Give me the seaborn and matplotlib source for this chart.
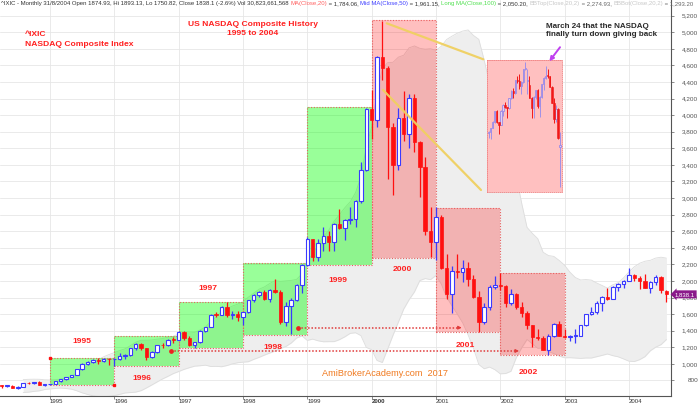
import numpy as np
import pandas as pd
import matplotlib
matplotlib.use("Agg")
import matplotlib.pyplot as plt
from matplotlib.patches import Rectangle, FancyArrowPatch
import seaborn as sns

# ---------------- data (monthly NASDAQ Composite, Apr 1994 - Aug 2004) ----------------
start_month = "1994-04"
opens = [743.5, 733.8, 735.2, 706.0, 722.2, 765.6, 764.3, 777.5, 750.3,
         752.0, 755.2, 793.7, 817.2, 844.0, 864.6, 933.5, 1001.2, 1020.1, 1043.5, 1036.1, 1059.2,
         1052.1, 1059.8, 1100.1, 1101.4, 1190.5, 1243.4, 1185.0, 1080.6, 1141.5, 1226.9, 1221.5, 1292.6,
         1291.0, 1379.9, 1309.0, 1221.7, 1260.8, 1400.3, 1442.1, 1593.8, 1587.3, 1685.7, 1593.6, 1600.6,
         1570.4, 1619.4, 1770.5, 1835.7, 1868.4, 1778.9, 1894.7, 1872.4, 1499.3, 1693.8, 1771.4, 1949.5,
         2192.7, 2505.9, 2288.0, 2461.4, 2542.9, 2470.5, 2686.1, 2638.5, 2739.4, 2746.2, 2966.4, 3336.2,
         4069.3, 3940.4, 4696.7, 4572.8, 3860.7, 3400.9, 3966.1, 3767.0, 4206.4, 3672.8, 3369.6, 2597.9,
         2470.5, 2772.7, 2151.8, 1840.3, 2116.2, 2110.5, 2160.5, 2027.1, 1805.4, 1498.8, 1690.2, 1930.6,
         1950.4, 1934.0, 1731.5, 1845.4, 1688.2, 1615.7, 1463.2, 1328.3, 1314.9, 1172.1, 1329.8, 1478.8,
         1335.5, 1320.9, 1337.5, 1341.2, 1464.3, 1595.9, 1622.8, 1735.0, 1810.5, 1786.9, 1932.2, 1960.3,
         2003.4, 2066.2, 2029.8, 1994.2, 1920.2, 1986.7, 2047.8, 1874.9]
highs = [746, 745, 748, 727, 767, 779, 785, 790, 760,
         762, 795, 819, 845, 868, 935, 1009, 1029, 1060, 1067, 1071, 1070,
         1065, 1125, 1117, 1193, 1250, 1249, 1190, 1155, 1230, 1250, 1295, 1328,
         1390, 1390, 1340, 1265, 1410, 1450, 1595, 1620, 1700, 1746, 1640, 1640,
         1630, 1775, 1840, 1880, 1890, 1900, 2028, 1890, 1750, 1790, 1960, 2200,
         2533, 2510, 2500, 2653, 2600, 2700, 2865, 2750, 2890, 2975, 3430, 4090,
         4303, 4711, 5132, 4595, 3910, 4083, 4290, 4260, 4260, 3690, 3500, 2890,
         2892, 2790, 2330, 2185, 2330, 2250, 2230, 2075, 1880, 1730, 1950, 2060,
         2098, 1945, 1900, 1860, 1740, 1640, 1470, 1425, 1330, 1365, 1495, 1520,
         1425, 1350, 1425, 1470, 1600, 1680, 1760, 1815, 1910, 1940, 1975, 2010,
         2155, 2080, 2065, 2080, 2000, 2070, 2055, 1893.1]
lows = [705, 717, 703, 700, 720, 760, 755, 740, 735,
        743, 754, 783, 808, 836, 862, 925, 990, 1015, 995, 1020, 990,
        978, 1050, 1060, 1090, 1170, 1165, 1042, 1075, 1130, 1195, 1210, 1250,
        1285, 1290, 1215, 1195, 1255, 1380, 1440, 1560, 1585, 1560, 1545, 1520,
        1465, 1610, 1740, 1810, 1770, 1745, 1860, 1480, 1460, 1357, 1760, 1860,
        2185, 2240, 2245, 2360, 2360, 2360, 2630, 2490, 2690, 2650, 2940, 3330,
        3711, 3855, 4420, 3227, 3042, 3340, 3690, 3600, 3560, 3010, 2560, 2288,
        2250, 2140, 1780, 1619, 2040, 1990, 1940, 1790, 1387, 1480, 1650, 1900,
        1890, 1690, 1710, 1660, 1570, 1420, 1200, 1290, 1165, 1108, 1320, 1330,
        1315, 1270, 1253, 1335, 1460, 1590, 1605, 1640, 1775, 1785, 1875, 1920,
        2000, 1995, 1900, 1920, 1860, 1950, 1860, 1750.8]
closes = [733.8, 735.2, 706.0, 722.2, 765.6, 764.3, 777.5, 750.3, 752.0,
          755.2, 793.7, 817.2, 844.0, 864.6, 933.5, 1001.2, 1020.1, 1043.5, 1036.1, 1059.2, 1052.1,
          1059.8, 1100.1, 1101.4, 1190.5, 1243.4, 1185.0, 1080.6, 1141.5, 1226.9, 1221.5, 1292.6, 1291.0,
          1379.9, 1309.0, 1221.7, 1260.8, 1400.3, 1442.1, 1593.8, 1587.3, 1685.7, 1593.6, 1600.6, 1570.4,
          1619.4, 1770.5, 1835.7, 1868.4, 1778.9, 1894.7, 1872.4, 1499.3, 1693.8, 1771.4, 1949.5, 2192.7,
          2505.9, 2288.0, 2461.4, 2542.9, 2470.5, 2686.1, 2638.5, 2739.4, 2746.2, 2966.4, 3336.2, 4069.3,
          3940.4, 4696.7, 4572.8, 3860.7, 3400.9, 3966.1, 3767.0, 4206.4, 3672.8, 3369.6, 2597.9, 2470.5,
          2772.7, 2151.8, 1840.3, 2116.2, 2110.5, 2160.5, 2027.1, 1805.4, 1498.8, 1690.2, 1930.6, 1950.4,
          1934.0, 1731.5, 1845.4, 1688.2, 1615.7, 1463.2, 1328.3, 1314.9, 1172.1, 1329.8, 1478.8, 1335.5,
          1320.9, 1337.5, 1341.2, 1464.3, 1595.9, 1622.8, 1735.0, 1810.5, 1786.9, 1932.2, 1960.3, 2003.4,
          2066.2, 2029.8, 1994.2, 1920.2, 1986.7, 2047.8, 1887.4, 1838.1]
# closes Jan 1993 - Mar 1994 (off the left edge, feed the Bollinger band)
warmup_start = "1993-01"
warmup_closes = [696.3, 670.8, 690.1, 661.4, 700.5, 704.0, 704.7, 742.8, 762.8, 779.3, 754.4, 776.8,
                 800.5, 792.5, 743.5]

# yearly high/low boxes
box_years = [1995, 1996, 1997, 1998, 1999, 2000, 2001, 2002]
box_lows = [744, 977, 1194, 1348, 2192, 2280, 1387, 1106]
box_highs = [1074, 1339, 1742, 2213, 4098, 5148, 2884, 2099]
box_kinds = ["up", "up", "up", "up", "up", "down", "down", "down"]

# support levels drawn as dotted arrows
support_levels = [1436, 1155]

# inset: daily candles 14 Feb - 4 Apr 2000
inset_o = [4285, 4299, 4346, 4411, 4549, 4411, 4382, 4550, 4618, 4591, 4578,
           4697, 4784, 4755, 4915, 4905, 4848, 4897, 5047, 4907, 4850, 4707, 4583, 4717, 4798,
           4610, 4712, 4865, 4941, 4963, 4959, 4834, 4645, 4458, 4573, 4120]
inset_h = [4310, 4350, 4430, 4550, 4555, 4420, 4555, 4630, 4650, 4600, 4700,
           4800, 4820, 4920, 4960, 4990, 4900, 5050, 5132, 5050, 4960, 4710, 4720, 4800, 4810,
           4720, 4870, 4945, 5078, 5050, 4960, 4845, 4700, 4620, 4580, 4300]
inset_l = [4230, 4215, 4340, 4405, 4400, 4280, 4380, 4490, 4580, 4460, 4570,
           4690, 4700, 4750, 4880, 4810, 4750, 4880, 5030, 4750, 4700, 4470, 4470, 4690, 4580,
           4480, 4700, 4800, 4930, 4940, 4830, 4640, 4400, 4420, 4210, 3649]
inset_c = [4299, 4346, 4411, 4549, 4411, 4382, 4550, 4618, 4591, 4578, 4697,
           4784, 4755, 4915, 4905, 4848, 4897, 5047, 5049, 4907, 4707, 4583, 4717, 4798, 4610,
           4712, 4865, 4941, 4963, 4959, 4834, 4645, 4458, 4573, 4224, 4149]

year_labels = ["1995", "1996", "1997", "1998", "1999", "2000", "2001", "2002", "2003", "2004"]
y_tick_values = list(range(800, 5201, 200))

# ---------------- styling / layout ----------------
sns.set_theme(style="white")
plt.rcParams['font.family'] = ['Liberation Sans', 'DejaVu Sans']

W, H = 700, 405
fig = plt.figure(figsize=(W / 100, H / 100), dpi=100)
fig.patch.set_facecolor("white")

PX_PER_M = 5.36      # pixels per monthly bar
X_JAN95 = 50.0       # pixel x of January 1995 bar
VPP = 12.065         # index points per pixel
Y_5200 = 15.7        # pixel y of 5200


def px2i(px):
    return 12 + (px - X_JAN95) / PX_PER_M


def py2v(py):
    return 5200 - (py - Y_5200) * VPP


def fxy(px, py):
    return px / W, 1 - py / H


AX_R, AX_B = 671, 396.0
ax = fig.add_axes([0, 1 - AX_B / H, AX_R / W, AX_B / H])
ax.set_xlim(px2i(0), px2i(AX_R))
ax.set_ylim(py2v(AX_B), py2v(0))
ax.set_facecolor("white")

months = pd.period_range(start_month, periods=len(closes), freq="M")
idx = np.array([(m.year - 1994) * 12 + m.month - 1 for m in months], dtype=float)
o, h, l, c = map(np.array, (opens, highs, lows, closes))

# Bollinger band (Close, 20, 2)
wm = pd.period_range(warmup_start, periods=len(warmup_closes), freq="M")
all_idx = np.array([(m.year - 1994) * 12 + m.month - 1 for m in wm] + list(idx))
s = pd.Series(list(warmup_closes) + list(closes))
mid = s.rolling(20).mean()
sd = s.rolling(20).std(ddof=0)
bb = pd.DataFrame({"i": all_idx, "top": mid + 2 * sd, "bot": mid - 2 * sd}).dropna()
ax.fill_between(bb["i"], bb["bot"], bb["top"], color="#eeeeee", lw=0, zorder=1)
sns.lineplot(data=bb, x="i", y="top", ax=ax, color="#dddddd", lw=0.6, zorder=1.2)
sns.lineplot(data=bb, x="i", y="bot", ax=ax, color="#dddddd", lw=0.6, zorder=1.2)

# yearly boxes
for yr, lo, hi, kind in zip(box_years, box_lows, box_highs, box_kinds):
    x0 = (yr - 1994) * 12
    fc = (0.0, 1.0, 0.0, 0.40) if kind == "up" else (1.0, 0.0, 0.0, 0.25)
    ax.add_patch(Rectangle((x0, lo), 12, hi - lo, facecolor=fc, edgecolor="none", zorder=1.5))
    ax.add_patch(Rectangle((x0, lo), 12, hi - lo, facecolor="none", edgecolor="#e86060",
                           lw=0.8, ls=(0, (1, 1.5)), zorder=1.6))
ax.plot([12, 24], [box_highs[0], box_lows[0]], ls="none", marker="s", ms=2.0, color="#ff1010", zorder=5)

# candles
BLUE, RED = "#3a3aff", "#ff1010"
up = c >= o
ax.vlines(idx, l, h, colors=np.where(up, BLUE, RED), lw=0.9, zorder=3)
bot = np.minimum(o, c)
hgt = np.maximum(np.abs(c - o), 9)
ax.bar(idx[up], hgt[up], bottom=bot[up], width=0.64, facecolor="white", edgecolor=BLUE, lw=0.8, zorder=3.5)
ax.bar(idx[~up], hgt[~up], bottom=bot[~up], width=0.64, facecolor=RED, edgecolor=RED, lw=0.5, zorder=3.5)

# support lines with arrows
for (sx, ex), lev in zip([(298, 461.7), (171, 519)], support_levels):
    ax.plot([px2i(sx), px2i(ex) - 0.6], [lev, lev], color="#e03a3a", lw=1.1, ls=(0, (1, 1.2)), zorder=4)
    ax.plot([px2i(sx)], [lev], marker="o", ms=2.4, color="#ee2020", zorder=4)
    ax.annotate("", xy=(px2i(ex), lev), xytext=(px2i(ex) - 1.0, lev),
                arrowprops=dict(arrowstyle="-|>", color="#e03a3a", lw=0.8, mutation_scale=5), zorder=4)

# yellow connector lines
for (x1, y1), (x2, y2) in [((386.7, 23.3), (483.3, 59.3)), ((383, 90), (481, 190))]:
    ax.plot([px2i(x1), px2i(x2)], [py2v(y1), py2v(y2)], color="#f0d060", lw=1.6, alpha=0.95,
            zorder=6, solid_capstyle="round")

# axes styling
ax.set_xticks([(int(y) - 1994) * 12 for y in year_labels])
ax.set_xticklabels(year_labels, ha="left", fontsize=4.3, color="#333333")
for t in ax.get_xticklabels():
    if t.get_text() == "2000":
        t.set_fontweight("bold")
ax.tick_params(axis="x", direction="out", length=2, width=0.6, pad=0.3, color="#777777", bottom=True)
ax.yaxis.tick_right()
ax.set_yticks(y_tick_values)
ax.set_yticklabels([f"{v:,}" for v in y_tick_values], ha="right")
ax.tick_params(axis="y", direction="out", length=2, width=0.6, pad=17.5, labelsize=4.6,
               labelcolor="#555555", color="#777777", right=True)
ax.grid(True, color="#e6e6e6", lw=0.6, zorder=0)
ax.set_axisbelow(True)
for side in ("top", "left"):
    ax.spines[side].set_visible(False)
for side in ("right", "bottom"):
    ax.spines[side].set_color("#555555")
    ax.spines[side].set_linewidth(0.8)
ax.set_xlabel("")
ax.set_ylabel("")

# inset with the daily March 2000 top
IL, IR, IT, IB = 487.3, 561.7, 60.0, 191.7
ins = fig.add_axes([IL / W, 1 - IB / H, (IR - IL) / W, (IB - IT) / H])
ins.set_facecolor("#ffc0c0")
n_in = len(inset_c)
ins.set_xlim(-0.69, n_in - 0.2)
ins.set_ylim(3590, 5152)
ii = np.arange(n_in)
io, ih, il, ic = map(np.array, (inset_o, inset_h, inset_l, inset_c))
iup = ic >= io
ins.vlines(ii, il, ih, colors=np.where(iup, "#a090e8", "#f01818"), lw=0.7, zorder=3)
ib = np.minimum(io, ic)
ihg = np.maximum(np.abs(ic - io), 10)
ins.bar(ii[iup], ihg[iup], bottom=ib[iup], width=0.6, facecolor="#e2d2f2", edgecolor="#9a88e6", lw=0.6, zorder=3.5)
ins.bar(ii[~iup], ihg[~iup], bottom=ib[~iup], width=0.6, facecolor="#f01818", edgecolor="#f01818", lw=0.4, zorder=3.5)
ins.set_xticks([])
ins.set_yticks([])
ins.grid(False)
for sp in ins.spines.values():
    sp.set_edgecolor("#f08080")
    sp.set_linewidth(0.6)
    sp.set_linestyle((0, (1, 1.5)))

# violet arrow
fig.add_artist(FancyArrowPatch(fxy(561.7, 45), fxy(547.7, 63.5), transform=fig.transFigure,
                               arrowstyle="-|>", mutation_scale=6, color="#c040f0", lw=1.4, zorder=10))


def T(px, py, s, **kw):
    return fig.text(px / W, 1 - py / H, s, **kw)


RED_T = "#ff2020"
T(25, 35, "^IXIC", color=RED_T, fontsize=6.1, fontweight="bold", va="center", ha="left")
T(25, 44.3, "NASDAQ Composite Index", color=RED_T, fontsize=6.1, fontweight="bold", va="center", ha="left")
T(253, 24, "US NASDAQ Composite History", color=RED_T, fontsize=6.1, fontweight="bold", va="center", ha="center")
T(253, 33.3, "1995 to 2004", color=RED_T, fontsize=6.1, fontweight="bold", va="center", ha="center")
T(546, 26, "March 24 that the NASDAQ", color="#2a2a2a", fontsize=5.8, fontweight="bold", va="center", ha="left")
T(546, 35, "finally turn down giving back", color="#2a2a2a", fontsize=5.8, fontweight="bold", va="center", ha="left")
T(385, 374, "AmiBrokerAcademy.com  2017", color="#f07a20", fontsize=6.6, va="center", ha="center")

year_label_pos = [(82.3, 341.7), (141.7, 379), (208, 288), (272.7, 347.7), (338, 281),
                  (402.3, 269.3), (465, 345.7), (528.3, 372.3)]
for yr, (px, py) in zip(box_years, year_label_pos):
    T(px, py, str(yr), color=RED_T, fontsize=6.1, fontweight="bold", va="center", ha="center", zorder=8)

# last value tag
T(675, Y_5200 + (5200 - closes[-1]) / VPP, f"{closes[-1]:,.1f}", color="white", fontsize=4.3,
  va="center", ha="left", bbox=dict(boxstyle="larrow,pad=0.25", fc="#8a1a8a", ec="none"), zorder=9)

# header line
renderer = fig.canvas.get_renderer()
parts = [("^IXIC - Monthly 31/8/2004 Open 1874.93, Hi 1893.13, Lo 1750.82, Close 1838.1 (-2.6%) "
          "Vol 30,823,661,568 ", "#333333"),
         ("MA(Close,20)", "#ff6060"), (" = 1,784.06, ", "#333333"),
         ("Mid MA(Close,50)", "#4040ff"), (" = 1,961.15, ", "#333333"),
         ("Long MA(Close,100)", "#50e050"), (" = 2,050.20, ", "#333333"),
         ("BBTop(Close,20,2)", "#c8c8c8"), (" = 2,274.93, ", "#666666"),
         ("BBBot(Close,20,2)", "#c8c8c8"), (" = 1,293.20", "#666666")]
xcur = 1.0
for txt, col in parts:
    t = T(xcur, 3.5, txt, color=col, fontsize=4.3, va="center", ha="left")
    xcur += t.get_window_extent(renderer=renderer).width

fig.savefig("out.png", dpi=100, facecolor="white")
